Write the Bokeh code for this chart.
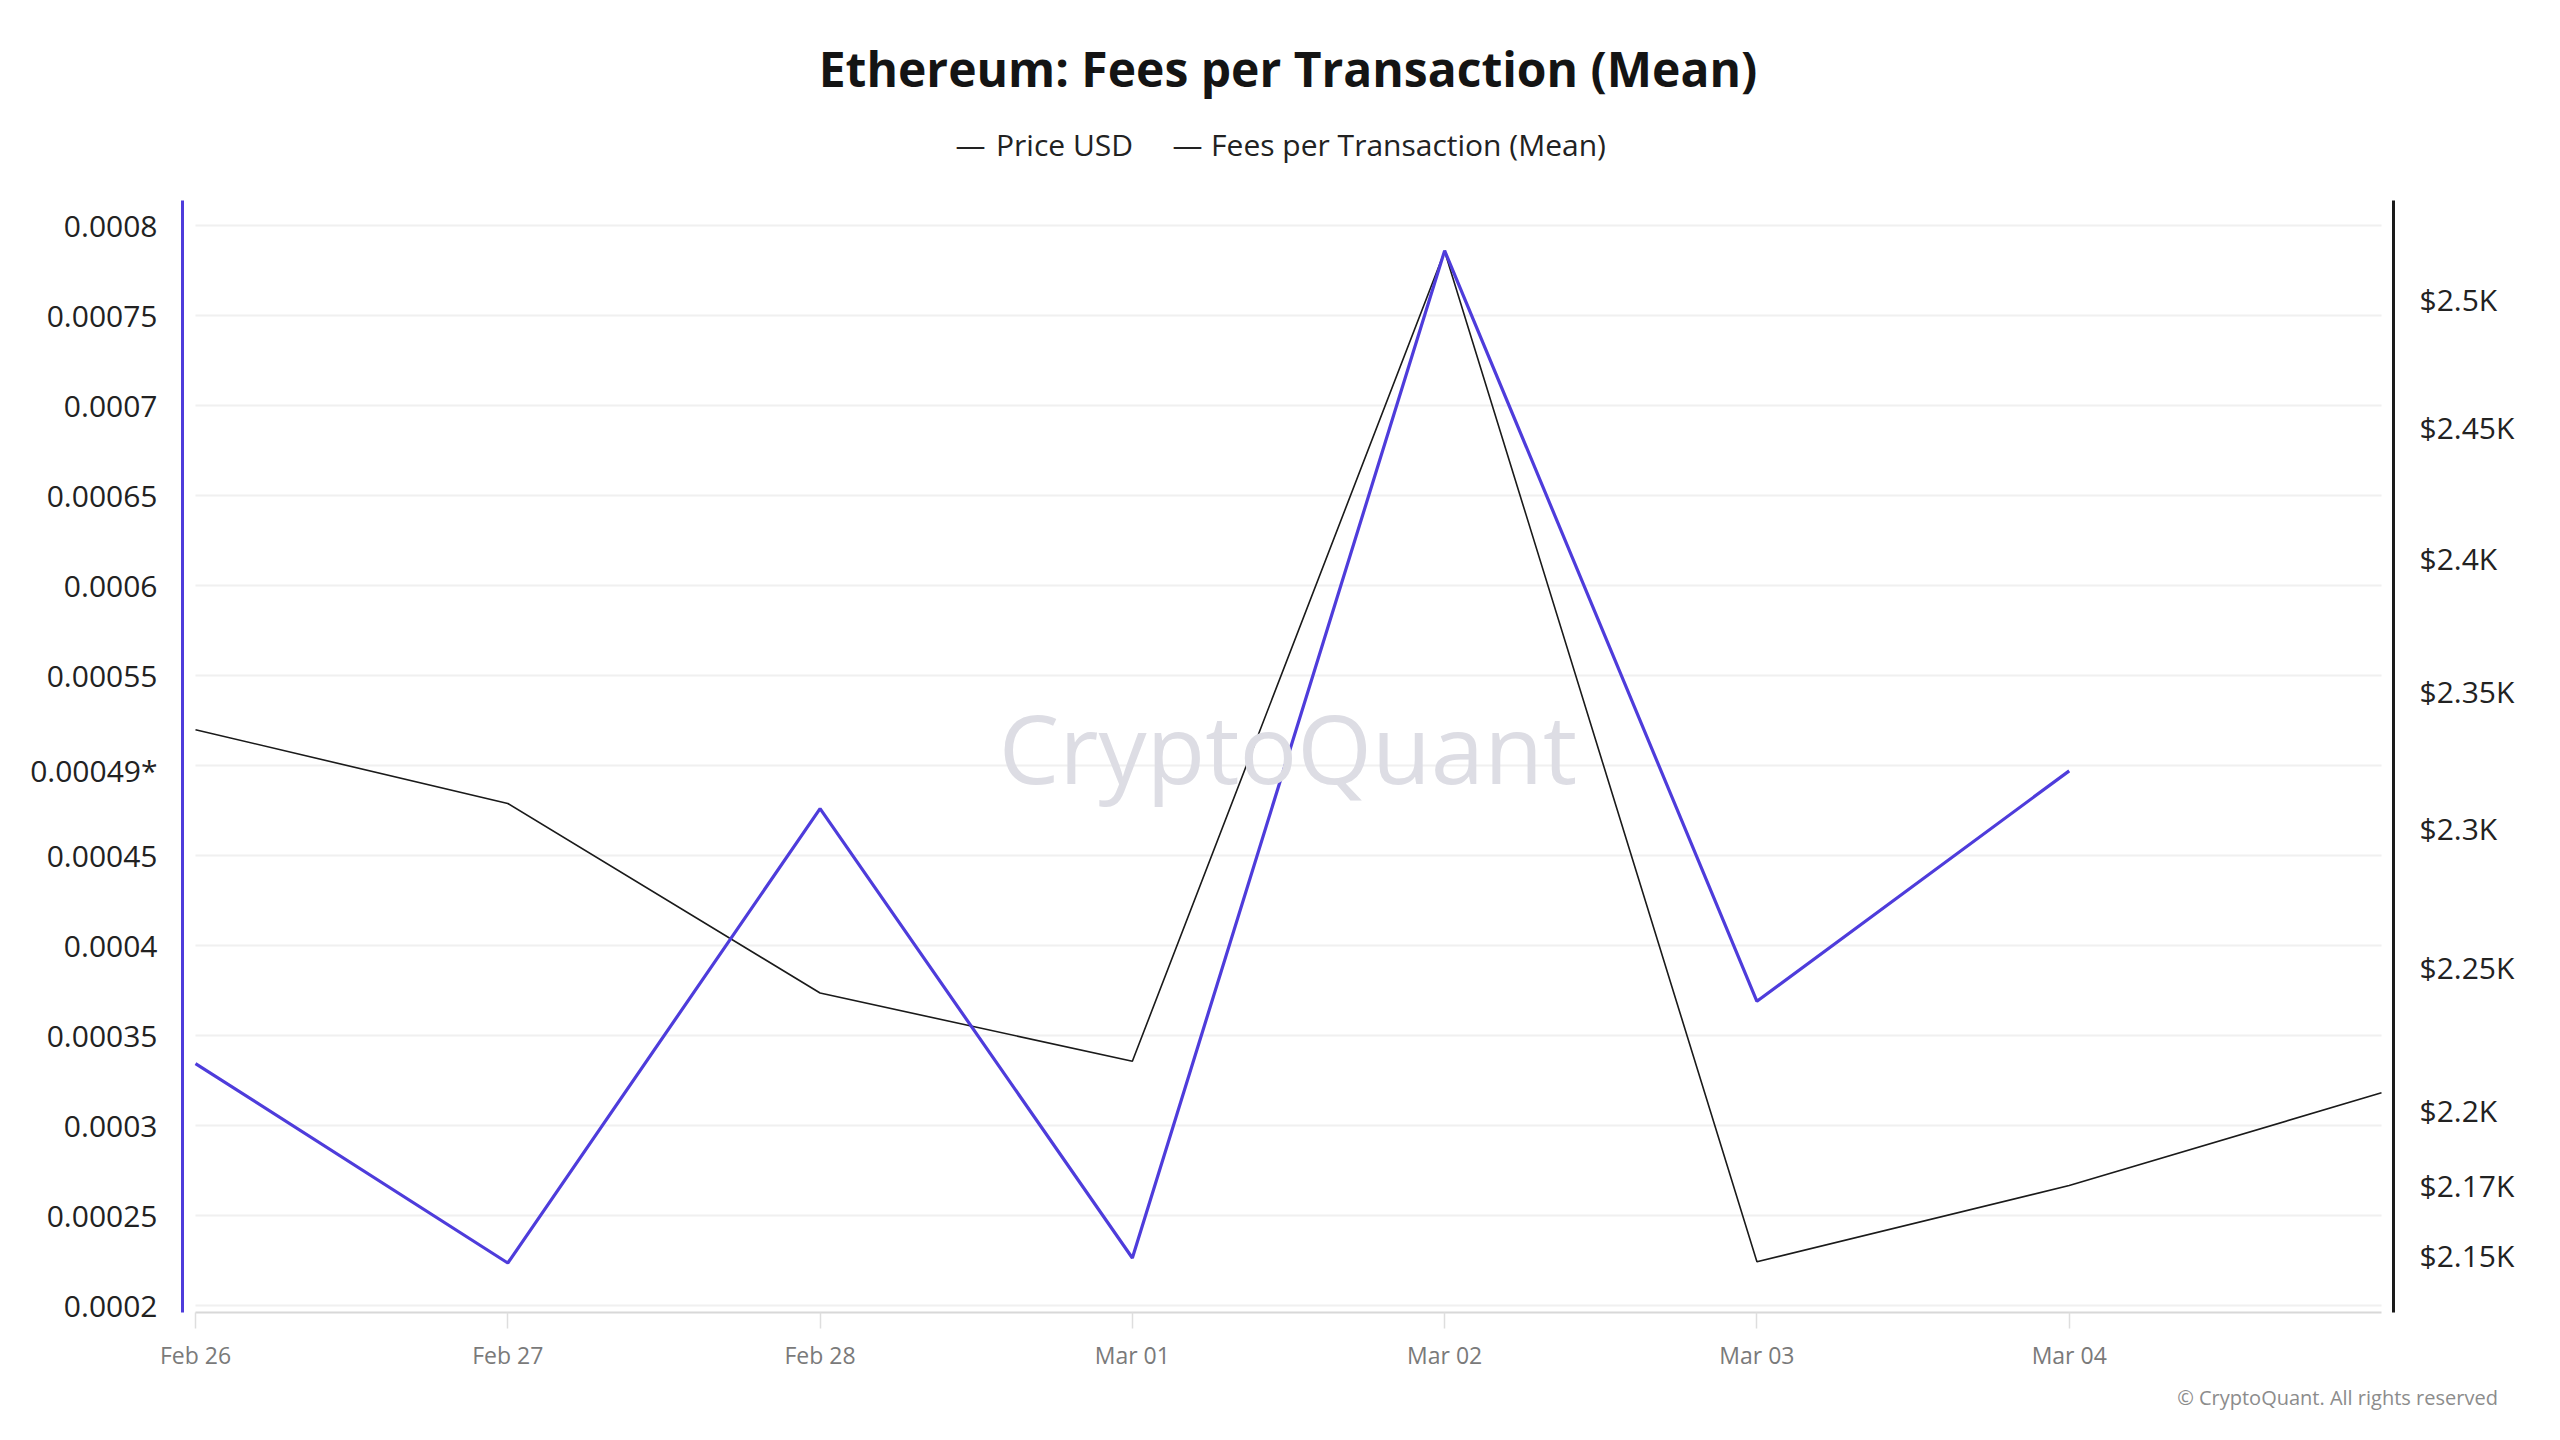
import datetime as dt
from bokeh.plotting import figure
from bokeh.models import (Range1d, LinearAxis, LogAxis, LogScale, FixedTicker,
                          DatetimeTickFormatter)
from bokeh.core.properties import value
from bokeh.embed import file_html
from bokeh.resources import INLINE

# ---------------- data ----------------
dates = ["2025-02-26", "2025-02-27", "2025-02-28", "2025-03-01",
         "2025-03-02", "2025-03-03", "2025-03-04", "2025-03-05"]
price_usd = [2336, 2309, 2241, 2217, 2519, 2148, 2174, 2206]
fees_mean = [0.0003344, 0.0002236, 0.000476, 0.0002264, 0.000786, 0.000369, 0.000497]

fee_ticks = [0.0002, 0.00025, 0.0003, 0.00035, 0.0004, 0.00045,
             0.00055, 0.0006, 0.00065, 0.0007, 0.00075, 0.0008]
fee_tick_labels = ["0.0002", "0.00025", "0.0003", "0.00035", "0.0004", "0.00045",
                   "0.00055", "0.0006", "0.00065", "0.0007", "0.00075", "0.0008"]
grid_levels = [0.0002, 0.00025, 0.0003, 0.00035, 0.0004, 0.00045, 0.0005,
               0.00055, 0.0006, 0.00065, 0.0007, 0.00075, 0.0008]
price_ticks = [2150, 2200, 2250, 2300, 2350, 2400, 2450, 2500]
price_tick_labels = ["$2.15K", "$2.2K", "$2.25K", "$2.3K", "$2.35K", "$2.4K", "$2.45K", "$2.5K"]
date_ticks = dates[:7]
series_names = ["Price USD", "Fees per Transaction (Mean)"]
title_text = "Ethereum: Fees per Transaction (Mean)"
copyright_text = "© CryptoQuant. All rights reserved"
watermark_text = "CryptoQuant"

fee_range = (0.00019611, 0.00081389)
price_range = (2130.9, 2539.3)

# ---------------- helpers ----------------
DAY = 86400000.0


def ms(s):
    d = dt.datetime.strptime(s, "%Y-%m-%d").replace(tzinfo=dt.timezone.utc)
    return d.timestamp() * 1000.0


xs = [ms(d) for d in dates]
PURPLE = "#4E3CDB"
DARK = "#1a1a1a"
FONT = "Open Sans"

W, H = 2540, 1416
BL, BT = 182, 200
BR = W - 2393
BB = H - 1312
FW = W - BL - BR

x_start = xs[0] - DAY * 13 / 312.3
x_end = xs[-1] + DAY * 12 / 312.3


def frac(abs_x):
    return (abs_x - BL) / FW


p = figure(width=W, height=H, x_axis_type="datetime", output_backend="svg",
           toolbar_location=None, tools="",
           x_range=Range1d(x_start, x_end), y_range=Range1d(*fee_range),
           min_border_left=BL, min_border_right=BR, min_border_top=BT, min_border_bottom=BB)
p.title.visible = False
p.outline_line_color = None
p.background_fill_color = "white"
p.border_fill_color = "white"
p.xgrid.visible = False
p.ygrid.visible = False

p.extra_y_ranges = {"price": Range1d(*price_range)}
p.extra_y_scales = {"price": LogScale()}
p.extra_x_ranges = {"ann": Range1d(0, 1)}

# latest values, shown on the axes
fee_last = fees_mean[-1]
fee_last_label = f"{int(fee_last * 1e5) / 1e5:.5f}*"
price_last = price_usd[len(fees_mean) - 1]
price_last_label = f"${price_last / 1000:.2f}K"

# left axis (fees)
ya = p.yaxis[0]
ya.ticker = FixedTicker(ticks=fee_ticks + [fee_last])
overrides = dict(zip(fee_ticks, fee_tick_labels))
overrides[fee_last] = fee_last_label
ya.major_label_overrides = overrides
ya.axis_line_color = PURPLE
ya.axis_line_width = 3
ya.major_tick_line_color = None
ya.minor_tick_line_color = None
ya.major_tick_out = 0
ya.major_tick_in = 0
ya.major_label_standoff = 25
ya.major_label_text_font = FONT
ya.major_label_text_font_size = "30px"
ya.major_label_text_color = "#222222"

# right axis (price, log)
ra = LogAxis(y_range_name="price", ticker=FixedTicker(ticks=price_ticks + [price_last]))
poverrides = dict(zip(price_ticks, price_tick_labels))
poverrides[price_last] = price_last_label
ra.major_label_overrides = poverrides
ra.axis_line_color = DARK
ra.axis_line_width = 3
ra.major_tick_line_color = None
ra.minor_tick_line_color = None
ra.major_tick_out = 0
ra.major_tick_in = 0
ra.major_label_standoff = 26
ra.major_label_text_font = FONT
ra.major_label_text_font_size = "30px"
ra.major_label_text_color = "#222222"
p.add_layout(ra, "right")

# bottom axis
xa = p.xaxis[0]
xa.ticker = FixedTicker(ticks=[ms(d) for d in date_ticks])
xa.formatter = DatetimeTickFormatter(days="%b %d", months="%b %d", hours="%b %d")
xa.bounds = (xs[0], xs[-1])
xa.axis_line_color = "#d8d8d8"
xa.axis_line_width = 2
xa.major_tick_line_color = "#dedede"
xa.major_tick_line_width = 1.5
xa.major_tick_out = 16
xa.major_tick_in = 0
xa.minor_tick_line_color = None
xa.major_label_standoff = 10
xa.major_label_text_font = FONT
xa.major_label_text_font_size = "23px"
xa.major_label_text_color = "#7a7a7a"

# copyright, drawn as the only tick label of a bare axis below
cpos = frac(2337)
ca = LinearAxis(x_range_name="ann", ticker=FixedTicker(ticks=[cpos]))
ca.major_label_overrides = {cpos: copyright_text}
ca.axis_line_color = None
ca.major_tick_line_color = None
ca.minor_tick_line_color = None
ca.major_tick_out = 0
ca.major_tick_in = 0
ca.major_label_standoff = 10
ca.major_label_text_font = FONT
ca.major_label_text_font_size = "20px"
ca.major_label_text_color = "#8c8c8c"
p.add_layout(ca, "below")

# gridlines, bounded to data span
p.segment(x0=[xs[0]] * len(grid_levels), x1=[xs[-1]] * len(grid_levels),
          y0=grid_levels, y1=grid_levels, line_color="#f0f0f0", line_width=2, level="underlay")

# series
r_price = p.line(xs, price_usd, y_range_name="price", line_color=DARK, line_width=1.6)
r_fee = p.line(xs[:len(fees_mean)], fees_mean, line_color=PURPLE, line_width=3.2)

# title (axis label) and legend entries (tick labels) on a bare axis above the frame
leg_pos = [frac(970), frac(1064), frac(1187), frac(1408)]
leg_txt = ["\u2014", series_names[0], "\u2014", series_names[1]]
ta = LinearAxis(x_range_name="ann", ticker=FixedTicker(ticks=leg_pos), axis_label=title_text)
ta.major_label_overrides = dict(zip(leg_pos, leg_txt))
ta.level = "overlay"
ta.axis_line_color = None
ta.major_tick_line_color = None
ta.minor_tick_line_color = None
ta.major_tick_out = 0
ta.major_tick_in = 0
ta.major_label_standoff = 36
ta.major_label_text_font = FONT
ta.major_label_text_font_size = "30px"
ta.major_label_text_color = "#222222"
ta.axis_label_standoff = 20
ta.axis_label_text_font = FONT
ta.axis_label_text_font_style = "bold"
ta.axis_label_text_font_size = "48px"
ta.axis_label_text_color = "#141414"
p.add_layout(ta, "above")

# watermark in the middle of the frame
p.text(x=[(x_start + x_end) / 2], y=[(fee_range[0] + fee_range[1]) / 2 + 0.0000056],
       text=[watermark_text], text_align="center", text_baseline="middle",
       text_font=value(FONT), text_font_size="96px", text_color="#dddde4", level="overlay")

open("out.html", "w").write(file_html(p, INLINE))
